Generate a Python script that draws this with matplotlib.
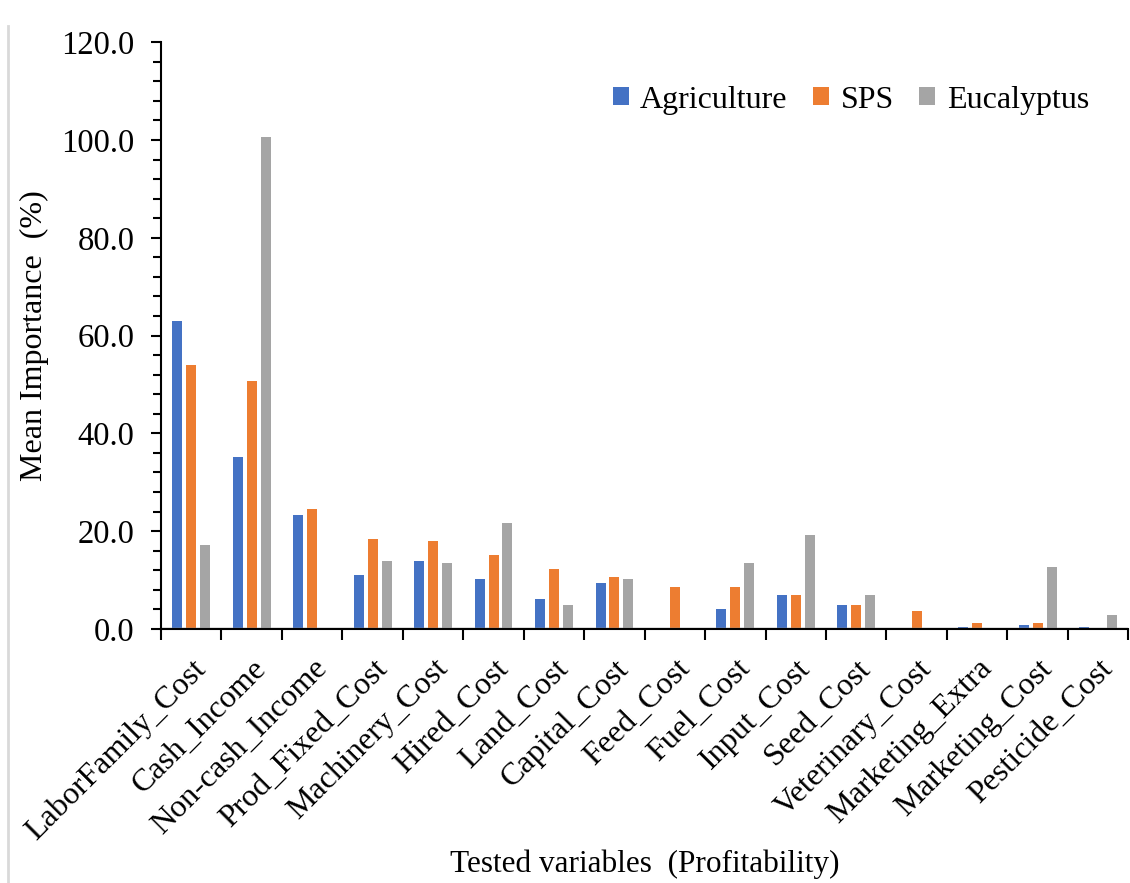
import numpy as np
import matplotlib
matplotlib.use("Agg")
import matplotlib.pyplot as plt
from matplotlib.ticker import MultipleLocator
from matplotlib.lines import Line2D

plt.rcParams['font.family'] = ['Liberation Serif', 'DejaVu Serif']

# data
variables = ['LaborFamily_Cost', 'Cash_Income', 'Non-cash_Income', 'Prod_Fixed_Cost',
             'Machinery_Cost', 'Hired_Cost', 'Land_Cost', 'Capital_Cost', 'Feed_Cost',
             'Fuel_Cost', 'Input_Cost', 'Seed_Cost', 'Veterinary_Cost', 'Marketing_Extra',
             'Marketing_Cost', 'Pesticide_Cost']
agriculture = [63.0, 35.1, 23.3, 11.0, 13.9, 10.2, 6.1, 9.4, 0.0, 4.1, 7.0, 4.9, 0.0, 0.4, 0.8, 0.4]
sps = [54.0, 50.7, 24.5, 18.4, 18.0, 15.1, 12.3, 10.6, 8.6, 8.6, 7.0, 4.9, 3.7, 1.2, 1.2, -0.3]
eucalyptus = [17.2, 100.6, 0.0, 13.9, 13.5, 21.7, 4.9, 10.2, 0.0, 13.5, 19.2, 7.0, 0.0, 0.0, 12.7, 2.9]

colors = ['#4472C4', '#ED7D31', '#A5A5A5']

fig = plt.figure(figsize=(11.3, 8.83), dpi=100)
ax = fig.add_axes([0.1425, 0.2877, 0.856, 0.6645])

x = np.arange(len(variables))
w = 0.165
ax.bar(x - 0.23, agriculture, w, color=colors[0], label='Agriculture')
ax.bar(x, sps, w, color=colors[1], label='SPS')
ax.bar(x + 0.23, eucalyptus, w, color=colors[2], label='Eucalyptus')

ax.set_xlim(-0.5, len(variables) - 0.5)
ax.set_ylim(0, 120)
ax.yaxis.set_major_locator(MultipleLocator(20))
ax.yaxis.set_minor_locator(MultipleLocator(4))
ax.yaxis.set_major_formatter(plt.FuncFormatter(lambda v, p: f'{v:.1f}'))
ax.tick_params(axis='y', which='major', direction='out', length=7, width=1.5, labelsize=23.5, pad=12)
ax.tick_params(axis='y', which='minor', direction='out', length=6, width=1.5)

ax.set_xticks(np.arange(len(variables) + 1) - 0.5, minor=True)
ax.set_xticks(x)
ax.set_xticklabels(variables, rotation=45, ha='right', rotation_mode='anchor', fontsize=23)
ax.tick_params(axis='x', which='major', length=0, pad=18)
ax.tick_params(axis='x', which='minor', direction='out', length=8, width=1.5)

ax.axhline(0, color='#A0A0A0', lw=2.5, zorder=1)
for s in ['top', 'right']:
    ax.spines[s].set_visible(False)
ax.spines['left'].set_linewidth(1.5)
ax.spines['bottom'].set_linewidth(1.5)

ax.set_ylabel('Mean Importance  (%)', fontsize=23, labelpad=9)
fig.text(0.571, 0.0125, 'Tested variables  (Profitability)', fontsize=22.5, ha='center')

ax.legend(loc='upper right', bbox_to_anchor=(0.978, 0.921), bbox_transform=fig.transFigure,
          ncol=3, frameon=False, fontsize=23, borderpad=0,
          handlelength=0.5, handleheight=0.5, handletextpad=0.36, columnspacing=0.8)

# thin light border at the left edge of the picture
fig.add_artist(Line2D([0.007, 0.007], [0.0, 0.97], transform=fig.transFigure, color='#D9D9D9', lw=2))

fig.savefig('out.png', dpi=100)
